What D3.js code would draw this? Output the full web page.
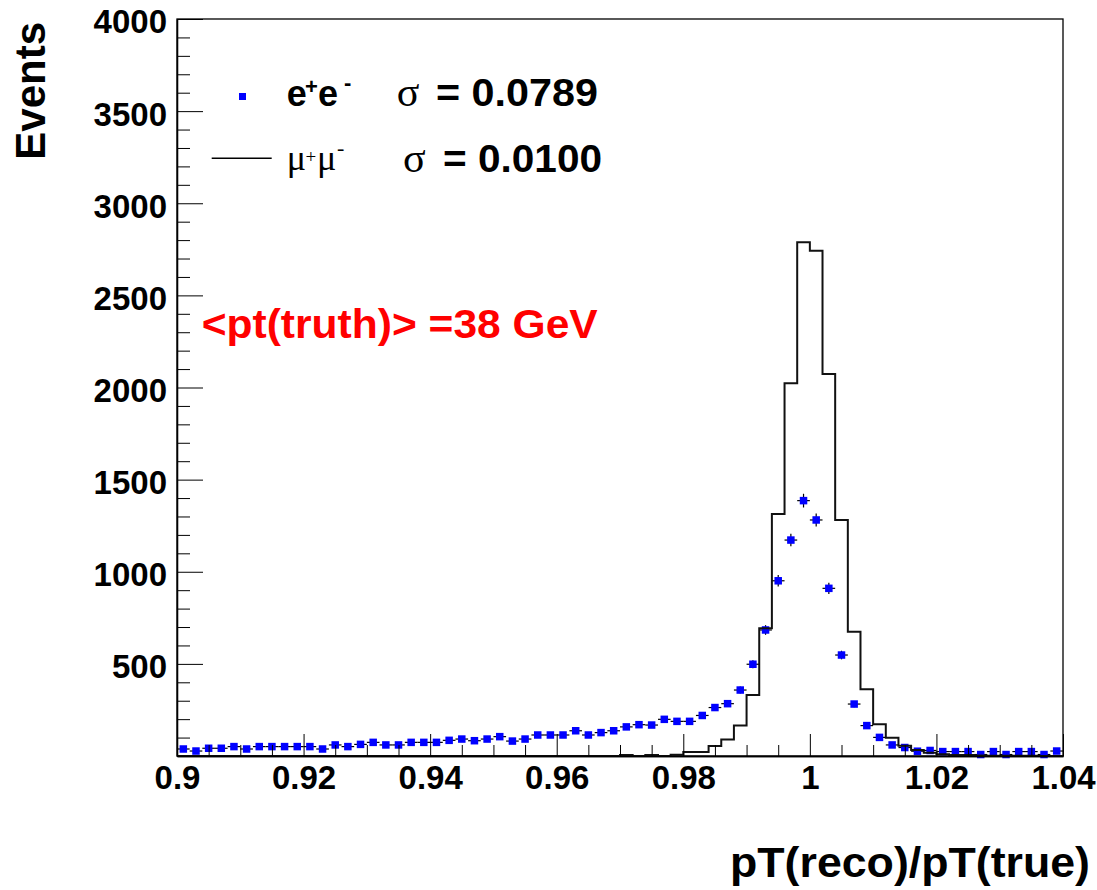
<!DOCTYPE html>
<html>
<head>
<meta charset="utf-8">
<script src="https://cdn.jsdelivr.net/npm/d3@7"></script>
<style>
  body { margin: 0; background: #fff; }
  svg { display: block; }
  text { font-family: "Liberation Sans", Arial, Helvetica, sans-serif; font-weight: bold; }
  .sym { font-family: "Liberation Serif", "Times New Roman", serif; font-weight: normal; }
</style>
</head>
<body>
<svg width="1097" height="890"></svg>
<script>
// histogram binning: 70 bins of 0.002 from 0.9 to 1.04
const binStart = 0.9;
const binWidth = 0.002;

// e+e- counts per bin (blue points)
const eeCounts = [
  38, 27, 42, 42, 51, 38, 51, 51, 51, 51,
  51, 38, 60, 51, 63, 74, 60, 60, 74, 74,
  74, 85, 92, 83, 92, 105, 81, 92, 114, 114,
  114, 137, 114, 127, 137, 158, 170, 168, 199, 188,
  188, 220, 263, 284, 358, 498, 684, 951, 1172, 1386,
  1281, 910, 548, 282, 165, 101, 60, 46, 26, 30,
  24, 24, 24, 8, 24, 8, 24, 24, 8, 27
];

// mu+mu- counts per bin (black line)
const mumuCounts = [
  0, 0, 0, 0, 0, 0, 0, 0, 0, 0,
  0, 0, 0, 0, 0, 0, 0, 0, 0, 0,
  0, 0, 0, 0, 0, 0, 0, 0, 0, 0,
  0, 0, 0, 0, 0, 6, 0, 6, 0, 7,
  22, 22, 54, 89, 165, 331, 693, 1313, 2023, 2788,
  2742, 2073, 1281, 675, 362, 172, 99, 55, 33, 18,
  10, 6, 5, 3, 2, 2, 1, 1, 0, 0
];

const xMajor = [0.9, 0.92, 0.94, 0.96, 0.98, 1.0, 1.02, 1.04];
const xLabels = ["0.9", "0.92", "0.94", "0.96", "0.98", "1", "1.02", "1.04"];
const yMajor = [500, 1000, 1500, 2000, 2500, 3000, 3500, 4000];

const svg = d3.select("svg");
const L = 177, R = 1063, T = 19, B = 756;

const x = d3.scaleLinear().domain([0.9, 1.04]).range([L, R]);
const y = d3.scaleLinear().domain([0, 4000]).range([B, T]);

const ee = eeCounts.map((v, i) => ({lo: binStart + i * binWidth, hi: binStart + (i + 1) * binWidth, v: v}));
const mm = mumuCounts.map((v, i) => ({lo: binStart + i * binWidth, hi: binStart + (i + 1) * binWidth, v: v}));

// frame
svg.append("rect")
  .attr("x", L).attr("y", T)
  .attr("width", R - L).attr("height", B - T)
  .attr("fill", "none").attr("stroke", "#000").attr("stroke-width", 1.3);

// e+e- error bars
const pts = svg.append("g");
pts.selectAll("line.h").data(ee).enter().append("line")
  .attr("x1", d => x(d.lo)).attr("x2", d => x(d.hi))
  .attr("y1", d => y(d.v)).attr("y2", d => y(d.v))
  .attr("stroke", "#000").attr("stroke-width", 1.2);
pts.selectAll("line.v").data(ee).enter().append("line")
  .attr("x1", d => x((d.lo + d.hi) / 2)).attr("x2", d => x((d.lo + d.hi) / 2))
  .attr("y1", d => y(d.v + Math.sqrt(d.v))).attr("y2", d => y(d.v - Math.sqrt(d.v)))
  .attr("stroke", "#000").attr("stroke-width", 1.2);
pts.selectAll("rect").data(ee).enter().append("rect")
  .attr("x", d => x((d.lo + d.hi) / 2) - 3.75)
  .attr("y", d => y(d.v) - 3.75)
  .attr("width", 7.5).attr("height", 7.5)
  .attr("fill", "#0000ff");

// mu+mu- histogram outline
const stepPts = mm.map(d => [d.lo, d.v]);
stepPts.push([mm[mm.length - 1].hi, mm[mm.length - 1].v]);
const line = d3.line()
  .curve(d3.curveStepAfter)
  .x(d => x(d[0]))
  .y(d => y(d[1]));
svg.append("path")
  .datum(stepPts)
  .attr("d", line)
  .attr("fill", "none")
  .attr("stroke", "#111")
  .attr("stroke-width", 2);

// x axis
const xMinor = d3.range(0.9, 1.0401, 0.005).filter(v => !xMajor.some(m => Math.abs(m - v) < 1e-6));
const xAxis = d3.axisBottom(x).tickValues(xMajor)
  .tickFormat((d, i) => xLabels[i])
  .tickSizeInner(-22).tickSizeOuter(0).tickPadding(10);
const gx = svg.append("g").attr("transform", "translate(0," + B + ")").call(xAxis);
gx.append("g").call(d3.axisBottom(x).tickValues(xMinor).tickFormat("").tickSizeInner(-11).tickSizeOuter(0));
gx.selectAll("path.domain").attr("stroke", "#000").attr("stroke-width", 1.3);
gx.selectAll("text").attr("font-size", 33).attr("fill", "#000");

// y axis
const yMinor = d3.range(100, 4000, 100).filter(v => v % 500 !== 0);
const yAxis = d3.axisLeft(y).tickValues(yMajor)
  .tickFormat(d3.format("d"))
  .tickSizeInner(-26).tickSizeOuter(0).tickPadding(10);
const gy = svg.append("g").attr("transform", "translate(" + L + ",0)").call(yAxis);
gy.append("g").call(d3.axisLeft(y).tickValues(yMinor).tickFormat("").tickSizeInner(-13).tickSizeOuter(0));
gy.selectAll("path.domain").attr("stroke", "#000").attr("stroke-width", 1.3);
gy.selectAll("text").attr("font-size", 33).attr("dy", "0.42em").attr("fill", "#000");
svg.selectAll(".tick line").attr("stroke", "#000");

// axis titles
svg.append("text")
  .attr("x", 1090).attr("y", 877)
  .attr("text-anchor", "end")
  .attr("font-size", 43)
  .attr("textLength", 360).attr("lengthAdjust", "spacingAndGlyphs")
  .text("pT(reco)/pT(true)");
svg.append("text")
  .attr("transform", "translate(45,22) rotate(-90)")
  .attr("text-anchor", "end")
  .attr("font-size", 42)
  .text("Events");

// legend
const leg = svg.append("g");
leg.append("rect").attr("x", 239).attr("y", 93).attr("width", 7).attr("height", 7).attr("fill", "#0000ff");
leg.append("text").attr("x", 286.7).attr("y", 106).attr("font-size", 36).text("e");
leg.append("text").attr("x", 305).attr("y", 94).attr("font-size", 22).text("+");
leg.append("text").attr("x", 318).attr("y", 106).attr("font-size", 36).text("e");
leg.append("text").attr("x", 344).attr("y", 90).attr("font-size", 22).text("-");
leg.append("text").attr("class", "sym").attr("x", 396.7).attr("y", 106).attr("font-size", 42).text("σ");
leg.append("text").attr("x", 436).attr("y", 106).attr("font-size", 38)
  .attr("textLength", 162).attr("lengthAdjust", "spacingAndGlyphs").text("= 0.0789");

leg.append("line").attr("x1", 211.7).attr("x2", 271.7).attr("y1", 158.3).attr("y2", 158.3)
  .attr("stroke", "#000").attr("stroke-width", 1.5);
leg.append("text").attr("class", "sym").attr("x", 286.7).attr("y", 170).attr("font-size", 36).text("μ");
leg.append("text").attr("class", "sym").attr("x", 305.5).attr("y", 163).attr("font-size", 19).text("+");
leg.append("text").attr("class", "sym").attr("x", 317).attr("y", 170).attr("font-size", 36).text("μ");
leg.append("text").attr("class", "sym").attr("x", 337).attr("y", 155).attr("font-size", 22).text("-");
leg.append("text").attr("class", "sym").attr("x", 403).attr("y", 171.7).attr("font-size", 42).text("σ");
leg.append("text").attr("x", 443).attr("y", 171.7).attr("font-size", 38)
  .attr("textLength", 159).attr("lengthAdjust", "spacingAndGlyphs").text("= 0.0100");

// annotation
svg.append("text")
  .attr("x", 201.7).attr("y", 337.5)
  .attr("font-size", 40)
  .attr("fill", "#ff0000")
  .attr("textLength", 396).attr("lengthAdjust", "spacingAndGlyphs")
  .text("<pt(truth)> =38 GeV");
</script>
</body>
</html>
